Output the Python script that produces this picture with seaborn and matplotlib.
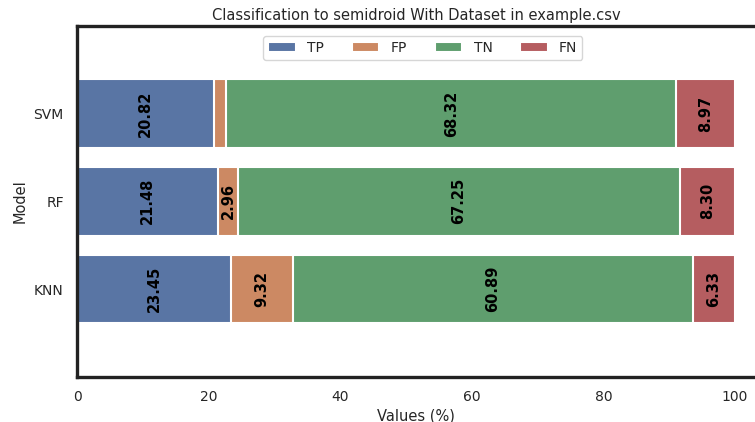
import numpy as np
import pandas as pd
import matplotlib
matplotlib.use('Agg')
import matplotlib.pyplot as plt
import seaborn as sns

# confusion-matrix shares per model (%)
models = ["SVM", "RF", "KNN"]
tp = [20.82, 21.48, 23.45]
fp = [1.89, 2.96, 9.32]
tn = [68.32, 67.25, 60.89]
fn = [8.97, 8.30, 6.33]
parts = ["TP", "FP", "TN", "FN"]

sns.set_theme(style="white")
plt.rcParams['font.family'] = ['DejaVu Sans']
colors = sns.color_palette("deep", 4)

df = pd.DataFrame({"Model": models, "TP": tp, "FP": fp, "TN": tn, "FN": fn})
cum = df[parts].cumsum(axis=1)

fig = plt.figure(figsize=(7.55, 4.22), dpi=100)
ax = fig.add_axes([0.102, 0.107, 0.898, 0.832])

# draw cumulative bars from the widest down so they stack visually
for i in range(len(parts) - 1, -1, -1):
    sns.barplot(x=cum[parts[i]], y=df["Model"], color=colors[i], ax=ax,
                orient="h", width=0.78, edgecolor="white", linewidth=1.5,
                label=parts[i])

# value labels centred in each segment
for j in range(len(models)):
    left = 0.0
    for p in parts:
        v = df.loc[j, p]
        if v >= 2:
            ax.text(left + v / 2, j, f"{v:.2f}", rotation=90, ha="center",
                    va="center", fontsize=10.5, fontweight="bold", color="black")
        left += v

ax.set_xlim(0, 103.04)
ax.set_ylim(3.0, -1.0)
ax.set_xlabel("Values (%)", fontsize=10.5, labelpad=3)
ax.set_ylabel("Model", fontsize=10.5)
ax.set_title("Classification to semidroid With Dataset in example.csv", fontsize=10.5, pad=4)
ax.tick_params(labelsize=10)

for side in ["left", "bottom", "top"]:
    ax.spines[side].set_linewidth(2.4)
    ax.spines[side].set_color("#222222")
ax.spines["right"].set_visible(False)

handles, labels = ax.get_legend_handles_labels()
order = [labels.index(p) for p in parts]
ax.legend([handles[k] for k in order], parts, loc="upper center", ncol=4,
          fontsize=10, bbox_to_anchor=(0.51, 0.99), borderpad=0.35)

fig.savefig("out.png", dpi=100)
